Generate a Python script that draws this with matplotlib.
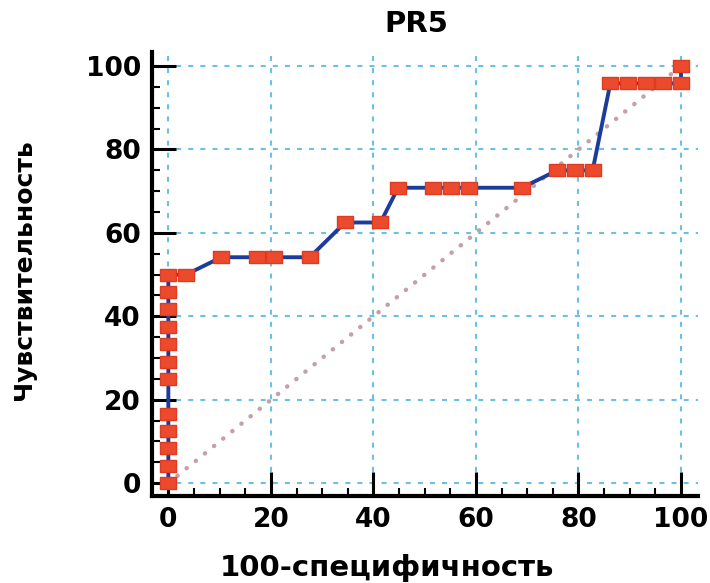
import matplotlib
matplotlib.use("Agg")
import matplotlib.pyplot as plt
from matplotlib.ticker import MultipleLocator

# ROC curve points: x = 100-specificity, y = sensitivity
fpr = [0, 0, 0, 0, 0, 0, 0, 0, 0, 0, 0, 0,
       3.45, 10.34, 17.24, 20.69, 27.59,
       34.48, 41.38, 44.83, 51.72, 55.17, 58.62, 68.97,
       75.86, 79.31, 82.76,
       86.21, 89.66, 93.10, 96.55, 100, 100]
tpr = [0, 4.17, 8.33, 12.5, 16.67, 25, 29.17, 33.33, 37.5, 41.67, 45.83, 50,
       50, 54.17, 54.17, 54.17, 54.17,
       62.5, 62.5, 70.83, 70.83, 70.83, 70.83, 70.83,
       75, 75, 75,
       95.83, 95.83, 95.83, 95.83, 95.83, 100]
diag = [0, 100]
ticks = [0, 20, 40, 60, 80, 100]
title = "PR5"
xlabel = "100-специфичность"
ylabel = "Чувствительность"

plt.rcParams['font.family'] = ['DejaVu Sans']
plt.rcParams['font.weight'] = 'bold'

fig = plt.figure(figsize=(7.10, 5.83), dpi=100)
ax = fig.add_axes([0.214, 0.149, 0.769, 0.762])

ax.set_xlim(-3.2, 103.3)
ax.set_ylim(-3.1, 103.4)

for t in ticks:
    ax.axhline(t, color='#6cc0e6', lw=1.5, ls=(0, (2.4, 3.4)), zorder=0)
    ax.axvline(t, color='#6cc0e6', lw=1.5, ls=(0, (2.4, 3.4)), zorder=0)

ax.plot(diag, diag, color='#c4a0a8', lw=3.2, ls=(0, (0.05, 2.6)),
        dash_capstyle='round', zorder=1)
ax.plot(fpr, tpr, color='#1c3c9c', lw=2.8, zorder=2)
wide_square = [(-1.45, -1), (1.45, -1), (1.45, 1), (-1.45, 1), (-1.45, -1)]
ax.plot(fpr, tpr, ls='none', marker=wide_square, ms=12, mfc='#ec4a2c',
        mec='#e03a22', mew=1, zorder=3)

ax.spines['top'].set_visible(False)
ax.spines['right'].set_visible(False)
ax.spines['left'].set_linewidth(3)
ax.spines['bottom'].set_linewidth(3)

ax.set_xticks(ticks)
ax.set_yticks(ticks)
ax.xaxis.set_minor_locator(MultipleLocator(5))
ax.yaxis.set_minor_locator(MultipleLocator(5))
ax.tick_params(which='major', direction='in', length=17, width=2.2, labelsize=19, pad=8)
ax.tick_params(which='minor', direction='in', length=6, width=1.5)

ax.set_title(title, fontsize=21, fontweight='bold', pad=14, x=0.485)
ax.set_xlabel(xlabel, fontsize=21, fontweight='bold', labelpad=8)
ax.xaxis.set_label_coords(0.43, -0.13)
ax.set_ylabel(ylabel, fontsize=18, fontweight='bold')
ax.yaxis.set_label_coords(-0.212, 0.51)

fig.savefig("out.png", dpi=100)
